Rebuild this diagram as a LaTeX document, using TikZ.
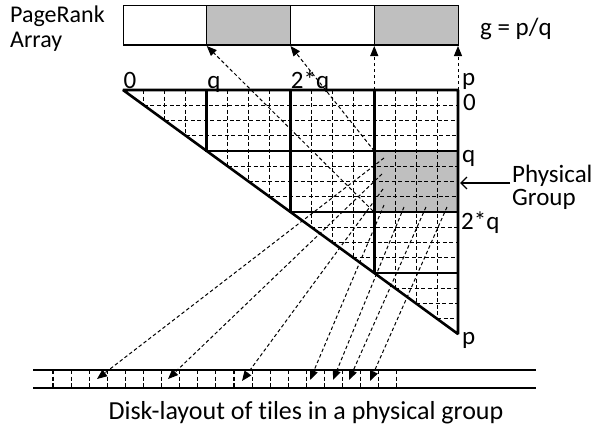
\documentclass[tikz,border=0pt]{standalone}
\usepackage{fontspec}
\setmainfont{Carlito}[Ligatures={NoCommon,NoRare}]
\usetikzlibrary{arrows.meta}
\begin{document}
\begin{tikzpicture}[x=1pt,y=-1pt,
  bold/.style={line width=2.6pt},
  gridline/.style={line width=1.1pt,dash pattern=on 4pt off 2.5pt},
  link/.style={line width=1pt,dash pattern=on 3.5pt off 2.5pt,-{Triangle[length=10pt,width=8pt]}},
  lbl/.style={font=\fontsize{25}{29}\selectfont,inner sep=0pt},
  cellbox/.style={draw=black,line width=1pt},
  grayfill/.style={fill=black!25}]
\useasboundingbox (0,0) rectangle (597,431);

% ---------- PageRank array ----------
\foreach \k/\f in {0/white,1/black!25,2/white,3/black!25}{
  \filldraw[cellbox,fill=\f] ({123+\k*83.75},5) rectangle ({123+(\k+1)*83.75},45);
}
\draw[line width=2.2pt] (123,45) -- (458,45);
\coordinate (a1) at (206.75,46);
\coordinate (a2) at (290.5,46);
\coordinate (a3) at (374.25,46);
\coordinate (a4) at (458,46);

\node[lbl,font=\fontsize{24}{28}\selectfont,anchor=base west] (prk) at (10,22) {PageRank};
\node[lbl,font=\fontsize{24}{28}\selectfont,anchor=base west] (arr) at (10,47) {Array};
\node[lbl,anchor=base west] (gpq) at (480,35) {g = p/q};

% ---------- physical group shading ----------
\fill[grayfill] (374.25,151) rectangle (458,212);

% ---------- dashed tile grid ----------
\foreach \i in {1,...,15}{
  \pgfmathsetmacro\xx{123+\i*20.9375}
  \pgfmathsetmacro\yy{90+\i*15.25}
  \draw[gridline] (\xx,90) -- (\xx,\yy);
  \draw[gridline] (\xx,\yy) -- (458,\yy);
}

% ---------- bold block grid ----------
\draw[bold,line join=bevel] (123,90) -- (458,90) -- (458,334) -- cycle;
\foreach \k in {1,2,3}{
  \pgfmathsetmacro\xx{123+\k*83.75}
  \pgfmathsetmacro\yy{90+\k*61}
  \draw[bold] (\xx,90) -- (\xx,\yy) -- (458,\yy);
}

% ---------- axis labels ----------
\node[lbl,anchor=base] (t0) at (130,88) {0};
\node[lbl,anchor=base] (tq) at (214,88) {q};
\node[lbl,anchor=base] (t2q) at (310,88) {2*q};
\node[lbl,anchor=base west] (tp) at (462,85) {p};
\node[lbl,anchor=base west] (r0) at (463,110) {0};
\node[lbl,anchor=base west] (rq) at (462,162) {q};
\node[lbl,anchor=base west] (r2q) at (461,229) {2*q};
\node[lbl,anchor=base west] (rp) at (462,344) {p};

% ---------- physical group label ----------
\node[lbl,anchor=base west] (phy) at (512,182) {Physical};
\node[lbl,anchor=base west] (grp) at (512,205) {Group};
\coordinate (pgs) at (510,183);
\coordinate (pge) at (460,183);
\draw[line width=1.4pt,-{Straight Barb[length=6pt,width=12pt]}] (pgs) -- (pge);

% ---------- arrows to PageRank array ----------
\coordinate (b1) at (373,211);
\coordinate (b2) at (374.25,151);
\coordinate (b3) at (374.25,90);
\coordinate (b4) at (458,90);
\draw[link] (b1) -- (a1);
\draw[link] (b2) -- (a2);
\draw[link] (b3) -- (a3);
\draw[link] (b4) -- (a4);

% ---------- disk layout ----------
\coordinate (dl1) at (33,370);
\coordinate (dr1) at (536,370);
\coordinate (dl2) at (33,388);
\coordinate (dr2) at (536,388);
\draw[line width=1.3pt] (dl1) -- (dr1);
\draw[line width=1.3pt] (dl2) -- (dr2);
\foreach \k in {0,...,19}{
  \draw[gridline] ({53+\k*18.1},370) -- ({53+\k*18.1},388);
}

% ---------- arrows to disk ----------
\coordinate (s1) at (384,158);
\coordinate (s2) at (382,174);
\coordinate (s3) at (383,189);
\coordinate (s4) at (384,205);
\coordinate (s5) at (404,207);
\coordinate (s6) at (426,207);
\coordinate (s7) at (447,207);
\coordinate (d1) at (97,379);
\coordinate (d2) at (168,379);
\coordinate (d3) at (242,381);
\coordinate (d4) at (310,380);
\coordinate (d5) at (333,380);
\coordinate (d6) at (349,380);
\coordinate (d7) at (370,381);
\foreach \n in {1,...,7}{
  \draw[link] (s\n) -- (d\n);
}

\node[lbl,font=\fontsize{26}{30}\selectfont,anchor=base] (cap) at (306,419) {Disk-layout of tiles in a physical group};
\end{tikzpicture}
\end{document}
